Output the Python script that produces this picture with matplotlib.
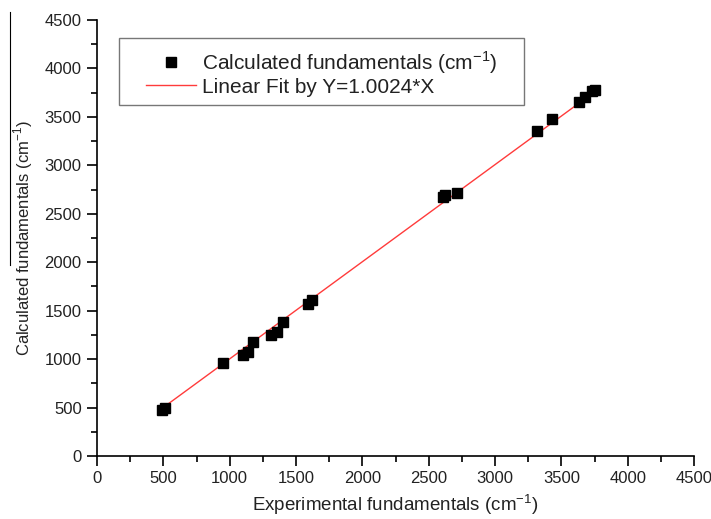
import matplotlib.pyplot as plt
from matplotlib.lines import Line2D
from matplotlib.patches import Rectangle
from matplotlib.ticker import MultipleLocator
import numpy as np

plt.rcParams['font.family'] = ['Liberation Sans', 'DejaVu Sans']
plt.rcParams['mathtext.fontset'] = 'custom'
plt.rcParams['mathtext.rm'] = 'Liberation Sans'

# experimental vs calculated fundamentals (cm-1)
exp_freq = [488, 512, 947, 1098, 1141, 1178, 1311, 1354, 1400, 1588, 1620,
            2606, 2622, 2711, 3319, 3427, 3636, 3678, 3729, 3750]
calc_freq = [475, 492, 957, 1042, 1077, 1180, 1249, 1283, 1386, 1572, 1610,
             2676, 2690, 2718, 3354, 3475, 3650, 3708, 3767, 3775]
slope = 1.0024

W, H = 711, 519
fig = plt.figure(figsize=(W / 100, H / 100), dpi=100)
ax = fig.add_axes([97 / W, 1 - 456 / H, 597 / W, 436 / H])

ax.plot(exp_freq, calc_freq, 's', color='black', markersize=7,
        label='Calculated fundamentals (cm$^{\\mathregular{-1}}$)', zorder=3)
xfit = np.array([min(exp_freq), max(exp_freq)])
ax.plot(xfit, slope * xfit, '-', color='#ff3b3b', lw=1.0,
        label='Linear Fit by Y=1.0024*X', zorder=2)

ax.set_xlim(0, 4500)
ax.set_ylim(0, 4500)
ax.xaxis.set_major_locator(MultipleLocator(500))
ax.xaxis.set_minor_locator(MultipleLocator(250))
ax.yaxis.set_major_locator(MultipleLocator(500))
ax.yaxis.set_minor_locator(MultipleLocator(250))
ax.tick_params(which='major', direction='out', length=7, width=1.2,
               labelsize=12, pad=4, labelcolor='#222222')
ax.tick_params(which='minor', direction='out', length=4, width=1.2)
for s in ['top', 'right']:
    ax.spines[s].set_visible(False)
for s in ['left', 'bottom']:
    ax.spines[s].set_linewidth(1.2)

ax.set_xlabel('Experimental fundamentals (cm$^{\\mathregular{-1}}$)', fontsize=13.5,
              labelpad=4, color='#222222')
ax.set_ylabel('Calculated fundamentals (cm$^{\\mathregular{-1}}$)', fontsize=12,
              labelpad=7, color='#222222')

# legend without its own frame, framed by a box like the original
leg = ax.legend(loc='upper left', bbox_to_anchor=(146 / W, 1 - 49 / H),
                bbox_transform=fig.transFigure, fontsize=15, frameon=False,
                borderpad=0, handlelength=2.4, handletextpad=0.3,
                labelspacing=0.1, borderaxespad=0)
for t in leg.get_texts():
    t.set_color('#222222')
fig.add_artist(Rectangle((119 / W, 1 - 105 / H), 405 / W, 67 / H,
                         transform=fig.transFigure, facecolor='none',
                         edgecolor='#777777', lw=1.0))

# stray vertical line at the left edge of the original figure
fig.add_artist(Line2D([10 / W, 10 / W], [1 - 12 / H, 1 - 265 / H],
                      color='black', lw=0.8))

fig.savefig('out.png', dpi=100)
